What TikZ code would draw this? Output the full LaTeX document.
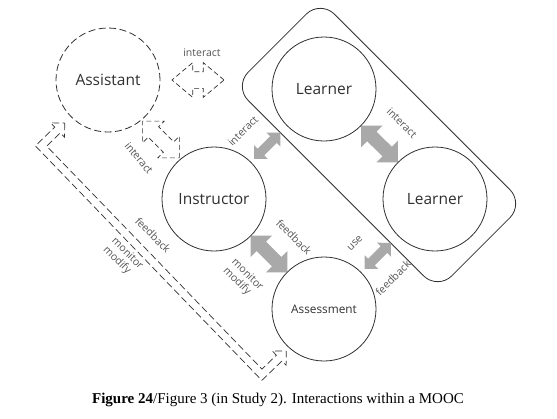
\documentclass[tikz,border=0pt]{standalone}
\usepackage{fontspec}
\usepackage{xcolor}
\usepackage{tikz}
\usetikzlibrary{shapes.arrows}
\setmainfont{Open Sans}
\newfontfamily\capfont{Liberation Serif}
\definecolor{moocline}{HTML}{303030}
\definecolor{moocgray}{HTML}{A9A9A9}
\definecolor{mooclabel}{HTML}{555555}

\tikzset{
  actor/.style={circle,draw=moocline,line width=0.8pt,minimum size=104pt,inner sep=0pt,
    text=moocline,font=\fontsize{15.5}{17}\selectfont},
  bigarrow/.style={double arrow,fill=moocgray,draw=none,inner sep=0pt,inner ysep=6.5pt,
    double arrow head extend=8.5pt,double arrow tip angle=90,minimum height=52pt,sloped},
  smallarrow/.style={double arrow,fill=moocgray,draw=none,inner sep=0pt,inner ysep=4.5pt,
    double arrow head extend=5pt,double arrow tip angle=90,minimum height=37pt,sloped},
  hollowarrow/.style={double arrow,draw=moocline,fill=white,line width=0.7pt,
    dash pattern=on 5pt off 3pt,inner sep=0pt,inner ysep=7pt,
    double arrow head extend=8pt,double arrow tip angle=90,minimum height=52pt},
  linklabel/.style={text=mooclabel,font=\fontsize{10.5}{12}\selectfont,inner sep=0pt,align=left}
}

\begin{document}
\begin{tikzpicture}[x=1pt,y=-1pt]
  \fill[white] (0,0) rectangle (557,418);
  \useasboundingbox (0,0) rectangle (557,418);

  \node[draw=moocline,line width=0.8pt,rounded corners=20pt,rotate=-45,
    minimum width=288pt,minimum height=122pt] (cohort) at (379,145) {};

  \node[actor,dash pattern=on 7pt off 3.5pt] (assistant) at (108,80) {Assistant};
  \node[actor] (learnerA) at (324,89) {Learner};
  \node[actor] (learnerB) at (435,199) {Learner};
  \node[actor] (instructor) at (214,199) {Instructor};
  \node[actor,font=\fontsize{11.8}{13}\selectfont] (assessment) at (324,309) {Assessment};

  \path (learnerA) -- (learnerB) node[midway,bigarrow] (arrLL) {};
  \path (instructor) -- (assessment) node[midway,bigarrow] (arrIA) {};
  \path (instructor) -- (learnerA) node[pos=0.45,smallarrow] (arrIL) {};
  \path (assessment) -- (learnerB) node[pos=0.45,smallarrow] (arrAL) {};

  \node[hollowarrow,inner ysep=8pt,double arrow head extend=9pt,double arrow tip angle=80]
    (arrAS) at (198,80) {};
  \path (assistant) -- (instructor) node[midway,hollowarrow,rotate=-45] (arrAI) {};

  \coordinate (loopstart) at (41,146);
  \begin{scope}[shift={(loopstart)},rotate=-46]
    \draw[moocline,line width=0.7pt,dash pattern=on 7pt off 3.5pt,line join=miter]
      (0,-33) -- (10,-23) -- (4,-23) -- (4,-4) -- (314,-4) -- (314,-24) -- (308,-24)
      -- (318,-34) -- (328,-24) -- (322,-24) -- (322,4) -- (-4,4) -- (-4,-23)
      -- (-10,-23) -- cycle;
  \end{scope}

  \node[linklabel] (labAS) at (202,53) {interact};
  \node[linklabel,rotate=-50] (labAI) at (139,158) {interact};
  \node[linklabel,rotate=45] (labIL) at (243,131) {interact};
  \node[linklabel,rotate=-45] (labLL) at (402,123) {interact};
  \node[linklabel,rotate=-45] (labIAa) at (294,237) {feedback};
  \node[linklabel,rotate=-45] (labIAb) at (243,279) {monitor\\modify};
  \node[linklabel,rotate=45] (labALa) at (355,243) {use};
  \node[linklabel,rotate=45] (labALb) at (393,278) {feedback};
  \node[linklabel,rotate=-45] (labLoopa) at (153,235) {feedback};
  \node[linklabel,rotate=-45] (labLoopb) at (123,258) {monitor\\modify};

  \node[font=\capfont\fontsize{15}{17}\selectfont] (caption) at (278,400)
    {\textbf{Figure 24}/Figure 3 (in Study 2). Interactions within a MOOC};
\end{tikzpicture}
\end{document}
